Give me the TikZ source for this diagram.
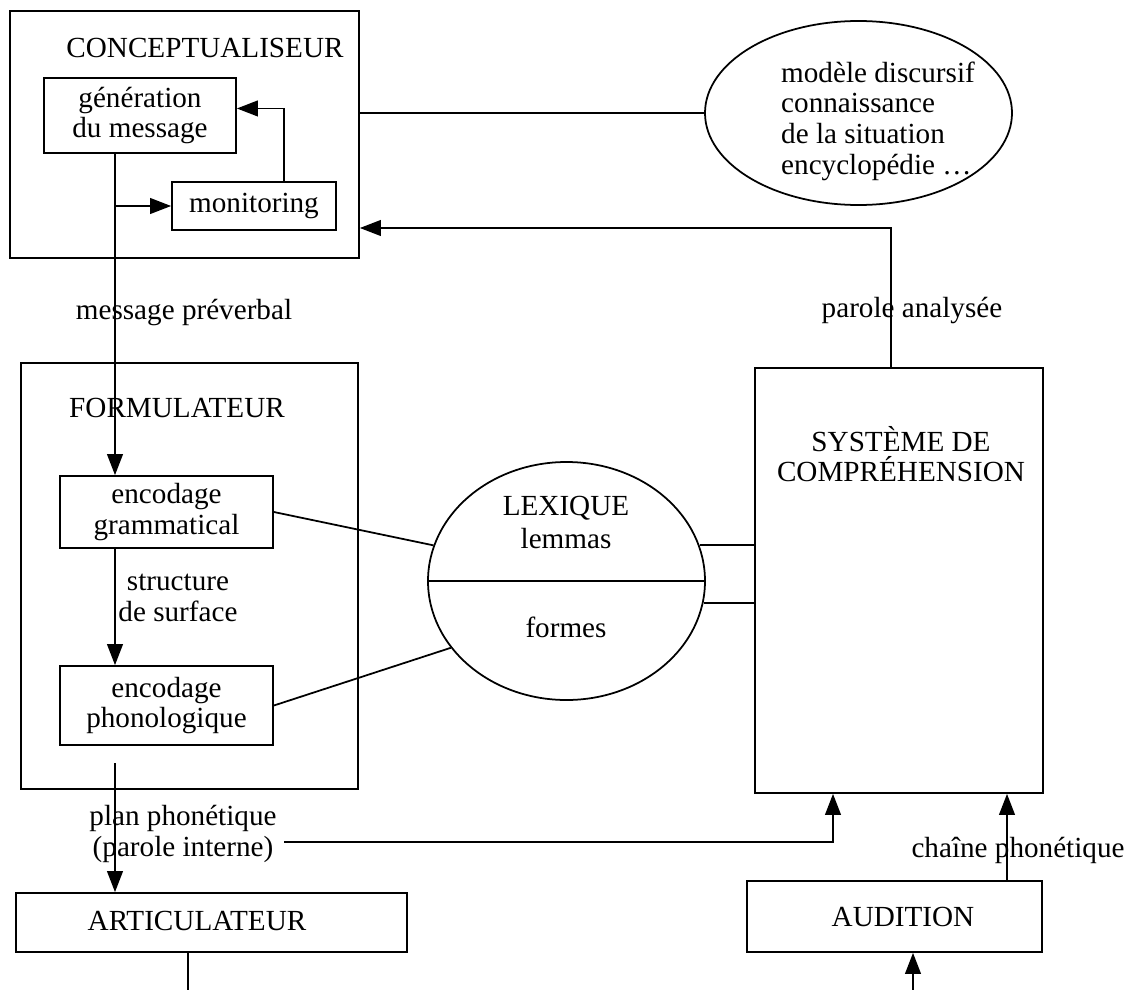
\documentclass[tikz,border=0pt]{standalone}
\usepackage{fontspec}
\setmainfont{Liberation Serif}
\usepackage{tikz}
\usetikzlibrary{arrows.meta,shapes.geometric,calc}
\newcommand\pxu{0.02cm}

\begin{document}
\begin{tikzpicture}[x=\pxu, y=-\pxu,
    font=\fontsize{16.6}{17.5}\selectfont, line width=1pt,
    box/.style={draw, rectangle, inner sep=0pt},
    oval/.style={draw, ellipse, inner sep=0pt},
    txt/.style={align=center, inner sep=1pt},
    heading/.style={align=center, inner sep=1pt},
    arr/.style={-{Triangle[length=12pt,width=9pt]}}]
  \useasboundingbox (0,0) rectangle (1129,990);

  % boites
  \node[box, minimum width=349*\pxu, minimum height=247*\pxu] (concept) at (184.5,134.5) {};
  \node[heading] (concepttitle) at (205,48) {CONCEPTUALISEUR};
  \node[box, txt, minimum width=192*\pxu, minimum height=75*\pxu] (gen) at (140,115.5) {génération\\du message};
  \node[box, txt, minimum width=164*\pxu, minimum height=48*\pxu] (monit) at (254,206) {monitoring};
  \node[oval, minimum width=307*\pxu, minimum height=184*\pxu] (ctx) at (858.5,113) {};
  \node[align=left, inner sep=1pt] (ctxtext) at (878,121)
    {modèle discursif\\connaissance\\de la situation\\encyclopédie \dots};

  \node[box, minimum width=337*\pxu, minimum height=426*\pxu] (form) at (189.5,576) {};
  \node[heading] (formtitle) at (177,408) {FORMULATEUR};
  \node[box, txt, minimum width=213*\pxu, minimum height=72*\pxu] (encg) at (166.5,512) {encodage\\grammatical};
  \node[box, txt, minimum width=213*\pxu, minimum height=79*\pxu] (encp) at (166.5,705.5) {encodage\\phonologique};

  \node[oval, minimum width=277*\pxu, minimum height=238*\pxu] (lex) at (566.5,581) {};
  \draw (lex.west) -- (lex.east);
  \node[heading] (lextitle) at (566,508) {LEXIQUE};
  \node[txt] (lemmas) at (566,539) {lemmas};
  \node[txt] (formes) at (566,627) {formes};

  \node[box, minimum width=288*\pxu, minimum height=425*\pxu] (sys) at (899,580.5) {};
  \node[heading] (systitle) at (901,454) {SYSTÈME DE\\COMPRÉHENSION};

  \node[box, minimum width=391*\pxu, minimum height=59*\pxu] (artic) at (211.5,922.5) {};
  \node[heading] (artictitle) at (197,921) {ARTICULATEUR};
  \node[box, minimum width=295*\pxu, minimum height=71*\pxu] (aud) at (894.5,916.5) {};
  \node[heading] (audtitle) at (903,917) {AUDITION};

  % etiquettes
  \node[txt] (msgpre) at (184,313) {message préverbal};
  \node[txt] (parana) at (912,311) {parole analysée};
  \node[txt] (surf) at (178,598) {structure\\de surface};
  \node[txt] (planph) at (183,834) {plan phonétique\\(parole interne)};
  \node[txt] (chaine) at (1018,850) {chaîne phonétique};

  % points de passage
  \coordinate (xa) at (115,0);
  \coordinate (xb) at (284,0);
  \coordinate (xc) at (891,0);
  \coordinate (xd) at (833,0);
  \coordinate (xe) at (1007,0);
  \coordinate (xf) at (188,0);
  \coordinate (xg) at (913,0);
  \coordinate (yc) at (0,228);
  \coordinate (bot) at (0,990);
  \coordinate (formout) at (115,763);
  \coordinate (pp) at (284,842);

  % liaisons
  \draw[arr] (gen.south -| xa) -- (encg.north -| xa);
  \draw[arr] (monit.west -| xa) -- (monit.west);
  \draw[arr] (monit.north -| xb) |- ([yshift=4pt]gen.east);
  \draw (concept.east |- ctx.west) -- (ctx.west);
  \draw[arr] (sys.north -| xc) |- (yc -| concept.east);
  \draw (encg.east) -- (lex.165);
  \draw (encp.east) -- (lex.210);
  \draw (lex.15) -- (lex.15 -| sys.west);
  \draw (lex.-9) -- (lex.-9 -| sys.west);
  \draw[arr] (encg.south -| xa) -- (encp.north -| xa);
  \draw[arr] (formout) -- (artic.north -| xa);
  \draw[arr] (pp) -| (sys.south -| xd);
  \draw[arr] (aud.north -| xe) -- (sys.south -| xe);
  \draw (artic.south -| xf) -- (xf |- bot);
  \draw[arr] (xg |- bot) -- (aud.south -| xg);
\end{tikzpicture}
\end{document}
